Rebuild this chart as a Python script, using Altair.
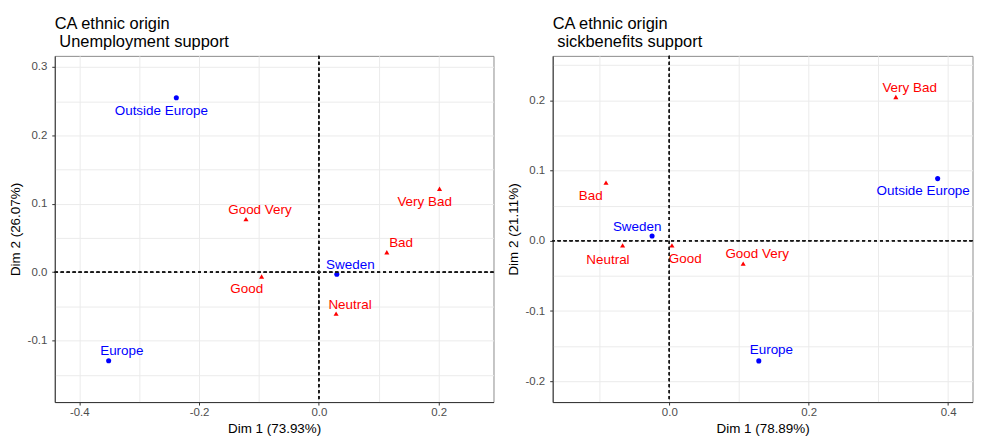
import altair as alt
import pandas as pd

FONT = "Liberation Sans"

# ---------------- Panel 1: Unemployment support ----------------
p1_names = ["Outside Europe", "Sweden", "Europe", "Very Bad", "Good Very", "Bad", "Good", "Neutral"]
p1_group = ["row", "row", "row", "col", "col", "col", "col", "col"]
p1_dim1 = [-0.238, 0.030, -0.351, 0.2015, -0.1217, 0.1135, -0.0956, 0.0288]
p1_dim2 = [0.255, -0.003, -0.1296, 0.122, 0.0776, 0.029, -0.0064, -0.0607]
# label positions (repelled), in data units
p1_lab1 = [-0.263, 0.0526, -0.329, 0.1766, -0.0984, 0.1373, -0.1205, 0.0521]
p1_lab2 = [0.2362, 0.0106, -0.1156, 0.1023, 0.0907, 0.0426, -0.0253, -0.0476]
p1_xticks = [-0.4, -0.3, -0.2, -0.1, 0.0, 0.1, 0.2]
p1_yticks = [-0.15, -0.1, -0.05, 0.0, 0.05, 0.1, 0.15, 0.2, 0.25, 0.3]
p1_xdomain = [-0.441, 0.2916]
p1_ydomain = [-0.190, 0.3163]

# ---------------- Panel 2: sickbenefits support ----------------
p2_names = ["Outside Europe", "Sweden", "Europe", "Very Bad", "Bad", "Neutral", "Good", "Good Very"]
p2_group = ["row", "row", "row", "col", "col", "col", "col", "col"]
p2_dim1 = [0.385, -0.0247, 0.1284, 0.325, -0.0908, -0.067, 0.0038, 0.106]
p2_dim2 = [0.0884, 0.0067, -0.1709, 0.2045, 0.0827, -0.0066, -0.0066, -0.0326]
p2_lab1 = [0.3642, -0.0461, 0.1465, 0.3448, -0.1127, -0.088, 0.0228, 0.126]
p2_lab2 = [0.0704, 0.0198, -0.1558, 0.2173, 0.0633, -0.0273, -0.0259, -0.0193]
p2_xticks = [-0.1, 0.0, 0.1, 0.2, 0.3, 0.4]
p2_yticks = [-0.2, -0.15, -0.1, -0.05, 0.0, 0.05, 0.1, 0.15, 0.2, 0.25]
p2_xdomain = [-0.1673, 0.435]
p2_ydomain = [-0.2295, 0.263]


def major_test(step):
    return f"abs(datum.value/{step} - round(datum.value/{step})) < 1e-6"


def make_axis(values, step, title, orient_y=False):
    t = major_test(step)
    return alt.Axis(
        values=values,
        title=title,
        labelExpr=f"({t}) ? replace(format(datum.value, '.1f'), '\u2212', '-') : ''",
        labelFont=FONT,
        labelFontSize=11.5,
        labelColor="#4D4D4D",
        labelPadding=5 if orient_y else 2,
        tickColor={"condition": {"test": t, "value": "#333333"}, "value": "rgba(0,0,0,0)"},
        tickSize=3,
        tickWidth=1,
        grid=True,
        gridColor="#EBEBEB",
        gridWidth=1,
        domainColor="#333333",
        domainWidth=1,
        titleFont=FONT,
        titleFontSize=13.5,
        titleFontWeight="normal",
        titleColor="black",
        titlePadding=6 if orient_y else 3,
        minExtent=26 if orient_y else 0,
        maxExtent=26 if orient_y else 200,
        labelFlush=False,
        labelOverlap=False,
    )


def make_panel(names, group, d1, d2, l1, l2, xticks, yticks, xdom, ydom,
               xstep, ystep, xtitle, ytitle, title_lines, width, height):
    df = pd.DataFrame({"name": names, "group": group, "d1": d1, "d2": d2,
                       "l1": l1, "l2": l2})
    xs = alt.Scale(domain=xdom, nice=False, zero=False)
    ys = alt.Scale(domain=ydom, nice=False, zero=False)
    xax = make_axis(xticks, xstep, xtitle)
    yax = make_axis(yticks, ystep, ytitle, True)
    color = alt.Color("group:N", scale=alt.Scale(domain=["row", "col"],
                                                 range=["#0000FF", "#FF0000"]), legend=None)
    shape = alt.Shape("group:N", scale=alt.Scale(domain=["row", "col"],
                                                 range=["circle", "triangle-up"]), legend=None)
    base = alt.Chart(df)
    pts = base.mark_point(filled=True, size=26, opacity=1).encode(
        x=alt.X("d1:Q", scale=xs, axis=xax),
        y=alt.Y("d2:Q", scale=ys, axis=yax),
        color=color,
        shape=shape,
    )
    vline = base.mark_rule(color="#1A1A1A", strokeDash=[3, 3], strokeWidth=0.9).encode(
        x=alt.datum(0, scale=xs, axis=xax)
    )
    hline = base.mark_rule(color="#1A1A1A", strokeDash=[3, 3], strokeWidth=0.9).encode(
        y=alt.datum(0, scale=ys, axis=yax)
    )
    labels = base.mark_text(font=FONT, fontSize=13.5, align="center", baseline="middle").encode(
        x=alt.X("l1:Q", scale=xs, axis=xax),
        y=alt.Y("l2:Q", scale=ys, axis=yax),
        text="name:N",
        color=color,
    )
    return alt.layer(pts, vline, hline, labels).properties(
        width=width, height=height,
        title=alt.TitleParams(text=title_lines, anchor="start", frame="group", font=FONT,
                              fontSize=16.5, fontWeight="normal", color="black",
                              lineHeight=18, offset=5),
    )


left = make_panel(p1_names, p1_group, p1_dim1, p1_dim2, p1_lab1, p1_lab2, p1_xticks, p1_yticks,
                  p1_xdomain, p1_ydomain, 0.2, 0.1, "Dim 1 (73.93%)", "Dim 2 (26.07%)",
                  ["CA ethnic origin", "\u200b\u00a0Unemployment support"], 441, 348)
right = make_panel(p2_names, p2_group, p2_dim1, p2_dim2, p2_lab1, p2_lab2, p2_xticks, p2_yticks,
                   p2_xdomain, p2_ydomain, 0.2, 0.1, "Dim 1 (78.89%)", "Dim 2 (21.11%)",
                   ["CA ethnic origin", "\u200b\u00a0sickbenefits support"], 422, 348)

chart = alt.hconcat(left, right, spacing=11.5).properties(
    padding={"left": 0, "top": 6, "right": 0, "bottom": 0},
    background="white",
).configure_view(stroke="#8C8C8C", strokeWidth=1)

chart.save("out.html", embed_options={"renderer": "svg", "actions": False})
